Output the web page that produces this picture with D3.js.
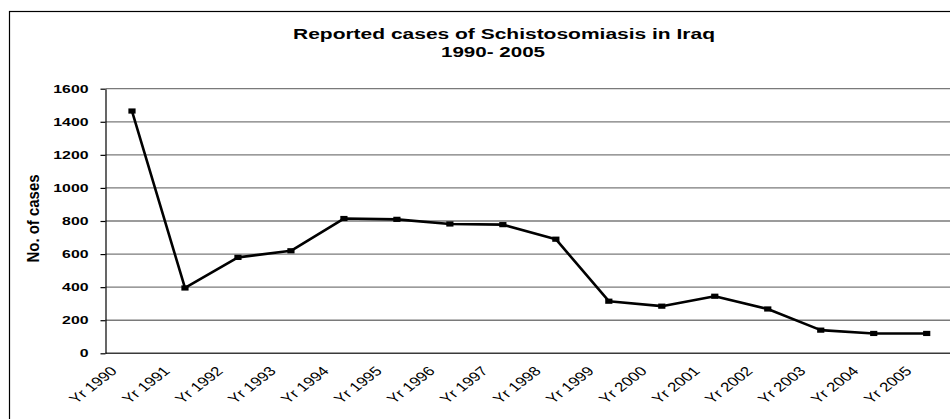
<!DOCTYPE html>
<html>
<head>
<meta charset="utf-8">
<script src="https://cdn.jsdelivr.net/npm/d3@7"></script>
<style>
  html, body { margin: 0; padding: 0; background: #fff; }
  svg { display: block; }
  text { font-family: "Liberation Sans", Arial, sans-serif; fill: #000; }
</style>
</head>
<body>
<svg id="chart" width="950" height="419"></svg>
<script>
// Reported cases per year
const years = ["Yr 1990", "Yr 1991", "Yr 1992", "Yr 1993", "Yr 1994", "Yr 1995", "Yr 1996", "Yr 1997",
               "Yr 1998", "Yr 1999", "Yr 2000", "Yr 2001", "Yr 2002", "Yr 2003", "Yr 2004", "Yr 2005"];
const cases = [1465, 395, 580, 620, 815, 810, 782, 778, 690, 315, 285, 345, 268, 140, 120, 120];
const yTicks = [0, 200, 400, 600, 800, 1000, 1200, 1400, 1600];
const titleLines = ["Reported cases of Schistosomiasis in Iraq", "1990- 2005"];
const yTitle = "No. of cases";

const svg = d3.select("#chart");
svg.append("rect").attr("width", 950).attr("height", 419).attr("fill", "#fff");

// chart frame (runs past the right and bottom edges of the view)
svg.append("rect")
  .attr("x", 9.5).attr("y", 11.5)
  .attr("width", 1100).attr("height", 500)
  .attr("fill", "none").attr("stroke", "#000").attr("stroke-width", 1.2);

const plot = { left: 105.5, right: 953.2, top: 88.7, bottom: 353.3 };

const x = d3.scaleBand().domain(years).range([plot.left, plot.right]).padding(0);
const y = d3.scaleLinear().domain([0, 1600]).range([plot.bottom, plot.top]);
const cx = d => x(d) + x.bandwidth() / 2;

// horizontal gridlines
svg.append("g")
  .selectAll("line")
  .data(yTicks.filter(t => t > 0))
  .join("line")
  .attr("x1", plot.left).attr("x2", plot.right)
  .attr("y1", d => y(d)).attr("y2", d => y(d))
  .attr("stroke", "#7a7a7a").attr("stroke-width", 1.3);

// category axis line
svg.append("line")
  .attr("x1", plot.left).attr("x2", plot.right)
  .attr("y1", y(0)).attr("y2", y(0))
  .attr("stroke", "#3a3a3a").attr("stroke-width", 1.5);

// value axis
const yAxis = svg.append("g")
  .attr("transform", `translate(${plot.left},0)`)
  .call(d3.axisLeft(y).tickValues(yTicks).tickFormat(d3.format("d"))
        .tickSize(5).tickPadding(12).tickSizeOuter(0));
yAxis.select(".domain").attr("stroke", "#000").attr("stroke-width", 1.2);
yAxis.selectAll(".tick line").attr("stroke", "#000").attr("stroke-width", 1.2);
yAxis.selectAll(".tick text")
  .attr("font-family", "Liberation Sans, Arial, sans-serif")
  .attr("font-size", 10.5).attr("font-weight", "bold")
  .attr("textLength", d => String(d).length * 8.8)
  .attr("lengthAdjust", "spacingAndGlyphs");

// category labels, rotated and widened
svg.append("g")
  .selectAll("text")
  .data(years)
  .join("text")
  .attr("transform", d => `translate(${cx(d) - 14},372) scale(1.3,1) rotate(-45)`)
  .attr("text-anchor", "end")
  .attr("font-size", 13)
  .text(d => d);

// series line
const line = d3.line().x((d, i) => cx(years[i])).y(d => y(d));
svg.append("path")
  .datum(cases)
  .attr("d", line)
  .attr("fill", "none")
  .attr("stroke", "#000")
  .attr("stroke-width", 2.6)
  .attr("stroke-linejoin", "round");

// square markers
svg.append("g")
  .selectAll("rect")
  .data(cases)
  .join("rect")
  .attr("x", (d, i) => cx(years[i]) - 3.6)
  .attr("y", d => y(d) - 2.6)
  .attr("width", 7.2).attr("height", 5.2)
  .attr("fill", "#000");

// title
svg.append("text")
  .attr("x", 504).attr("y", 38.5)
  .attr("text-anchor", "middle")
  .attr("font-size", 14.5).attr("font-weight", "bold")
  .attr("textLength", 422).attr("lengthAdjust", "spacingAndGlyphs")
  .text(titleLines[0]);
svg.append("text")
  .attr("x", 493).attr("y", 57)
  .attr("text-anchor", "middle")
  .attr("font-size", 14.5).attr("font-weight", "bold")
  .attr("textLength", 104).attr("lengthAdjust", "spacingAndGlyphs")
  .text(titleLines[1]);

// value axis title
svg.append("text")
  .attr("transform", "translate(39,218.5) scale(1.09,1) rotate(-90)")
  .attr("text-anchor", "middle")
  .attr("font-size", 15).attr("font-weight", "bold")
  .attr("textLength", 88).attr("lengthAdjust", "spacingAndGlyphs")
  .text(yTitle);
</script>
</body>
</html>
